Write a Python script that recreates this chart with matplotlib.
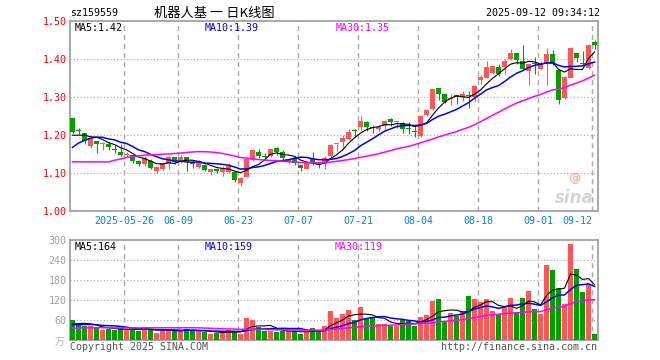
import matplotlib
matplotlib.use('Agg')
import matplotlib.pyplot as plt
import numpy as np

plt.rcParams['lines.scale_dashes'] = False

# ---------------- data ----------------
# closes before the visible window, inferred from the starting levels of the MA lines
prior_closes = [1.21, 1.19, 1.19, 1.18, 1.18, 1.17,
                1.03, 1.05, 1.04, 1.06, 1.06,
                1.08, 1.09, 1.10, 1.10, 1.11, 1.10, 1.11,
                1.08, 1.09,
                1.10, 1.115, 1.13, 1.149, 1.186,
                1.212, 1.185, 1.209, 1.185]
prior_volumes = [30, 28, 27, 29, 26, 45, 40, 35, 30, 28, 27, 25, 26, 24, 25, 27, 26, 28, 25, 29,
                 36, 38, 40, 44, 47, 40, 37, 50, 50]

opens = [1.245, 1.214, 1.205, 1.172, 1.185, 1.178, 1.177, 1.165, 1.156, 1.149,
         1.147, 1.133, 1.123, 1.133, 1.107, 1.112, 1.125, 1.142, 1.133, 1.142,
         1.130, 1.117, 1.121, 1.102, 1.111, 1.102, 1.104, 1.102, 1.074, 1.091,
         1.135, 1.156, 1.145, 1.144, 1.167, 1.156, 1.132, 1.139, 1.121, 1.112,
         1.137, 1.125, 1.125, 1.144, 1.176, 1.181, 1.191, 1.213, 1.222, 1.235,
         1.222, 1.216, 1.224, 1.243, 1.235, 1.231, 1.218, 1.212, 1.197, 1.254,
         1.268, 1.323, 1.307, 1.295, 1.305, 1.300, 1.306, 1.300, 1.345, 1.351,
         1.363, 1.379, 1.379, 1.400, 1.416, 1.396, 1.368, 1.390, 1.375, 1.386,
         1.413, 1.372, 1.298, 1.351, 1.416, 1.388, 1.377, 1.444]
highs = [1.246, 1.219, 1.207, 1.196, 1.186, 1.182, 1.181, 1.174, 1.177, 1.156,
         1.149, 1.136, 1.144, 1.137, 1.119, 1.130, 1.145, 1.143, 1.147, 1.143,
         1.135, 1.135, 1.125, 1.112, 1.114, 1.119, 1.128, 1.104, 1.091, 1.140,
         1.163, 1.165, 1.153, 1.165, 1.168, 1.160, 1.140, 1.144, 1.122, 1.132,
         1.156, 1.126, 1.144, 1.177, 1.178, 1.200, 1.216, 1.216, 1.251, 1.237,
         1.226, 1.228, 1.240, 1.244, 1.238, 1.235, 1.235, 1.223, 1.252, 1.268,
         1.322, 1.324, 1.310, 1.307, 1.306, 1.316, 1.316, 1.331, 1.358, 1.395,
         1.383, 1.388, 1.400, 1.426, 1.417, 1.436, 1.386, 1.405, 1.394, 1.429,
         1.424, 1.373, 1.356, 1.431, 1.417, 1.420, 1.440, 1.449]
lows = [1.205, 1.203, 1.177, 1.167, 1.154, 1.160, 1.160, 1.154, 1.145, 1.142,
        1.128, 1.120, 1.119, 1.111, 1.100, 1.109, 1.111, 1.125, 1.128, 1.107,
        1.114, 1.115, 1.105, 1.096, 1.100, 1.093, 1.100, 1.077, 1.067, 1.089,
        1.133, 1.140, 1.135, 1.142, 1.147, 1.135, 1.128, 1.121, 1.107, 1.110,
        1.121, 1.114, 1.112, 1.142, 1.158, 1.170, 1.188, 1.196, 1.214, 1.212,
        1.207, 1.212, 1.216, 1.225, 1.219, 1.207, 1.203, 1.195, 1.194, 1.250,
        1.265, 1.293, 1.284, 1.279, 1.281, 1.290, 1.272, 1.290, 1.334, 1.349,
        1.361, 1.356, 1.360, 1.398, 1.388, 1.372, 1.333, 1.362, 1.374, 1.333,
        1.384, 1.281, 1.296, 1.349, 1.393, 1.384, 1.373, 1.426]
closes = [1.209, 1.212, 1.185, 1.189, 1.178, 1.180, 1.170, 1.160, 1.147, 1.151,
          1.132, 1.123, 1.140, 1.114, 1.117, 1.126, 1.142, 1.130, 1.142, 1.132,
          1.125, 1.127, 1.109, 1.110, 1.105, 1.112, 1.119, 1.083, 1.088, 1.137,
          1.160, 1.146, 1.143, 1.163, 1.156, 1.139, 1.138, 1.126, 1.114, 1.130,
          1.126, 1.122, 1.140, 1.175, 1.177, 1.193, 1.209, 1.211, 1.238, 1.222,
          1.219, 1.222, 1.238, 1.235, 1.237, 1.217, 1.216, 1.209, 1.250, 1.267,
          1.321, 1.309, 1.288, 1.299, 1.300, 1.308, 1.302, 1.330, 1.354, 1.379,
          1.382, 1.361, 1.395, 1.416, 1.398, 1.375, 1.386, 1.388, 1.386, 1.412,
          1.386, 1.293, 1.352, 1.430, 1.402, 1.386, 1.438, 1.437]
volumes = [58, 45, 42, 40, 35, 28, 32, 30, 34, 28, 30, 27, 35, 31, 20, 27, 31, 25, 25, 32,
           27, 25, 24, 17, 21, 19, 30, 27, 17, 64, 58, 39, 27, 25, 23, 27, 25, 25, 17, 23,
           34, 26, 40, 87, 64, 76, 88, 58, 97, 63, 64, 48, 48, 41, 42, 59, 57, 40, 68, 73,
           115, 121, 57, 79, 70, 87, 130, 121, 112, 121, 85, 76, 102, 124, 82, 125, 145, 92, 76, 226,
           209, 156, 107, 289, 212, 142, 168, 16]

tick_idx = [9, 18, 28, 38, 48, 58, 68, 78, 87]
tick_labels = ['2025-05-26', '06-09', '06-23', '07-07', '07-21', '08-04', '08-18', '09-01', '09-12']
price_ticks = [1.00, 1.10, 1.20, 1.30, 1.40, 1.50]
vol_ticks = [60, 120, 180, 240, 300]

ma_periods = [5, 10, 30]
ma_colors = ['#000000', '#0000FF', '#FF00FF']
ma_lw = [0.8, 1.1, 1.1]
price_ma_text = ['MA5:1.42', 'MA10:1.39', 'MA30:1.35']
vol_ma_text = ['MA5:164', 'MA10:159', 'MA30:119']

# ---------------- styling ----------------
RED = '#FF5757'
GREEN = '#009F00'
GRID = '#A8A8A8'
FRAME = '#9A9A9A'
MONO = 'DejaVu Sans Mono'

W, H = 660, 360
fig = plt.figure(figsize=(W / 100, H / 100), dpi=100)
fig.patch.set_facecolor('white')

L, R = 70, 598
ax = fig.add_axes([L / W, 1 - 211.3 / H, (R - L) / W, (211.3 - 21.0) / H])
axv = fig.add_axes([L / W, 1 - 339.5 / H, (R - L) / W, (339.5 - 240.0) / H])

o = np.array(opens); h = np.array(highs); lo = np.array(lows); c = np.array(closes)
v = np.array(volumes, dtype=float)
n = len(c)
x = np.arange(n) + 0.42
up = c >= o
cols = np.where(up, RED, GREEN)

def rolling(full, p, n):
    full = np.asarray(full, dtype=float)
    out = np.convolve(full, np.ones(p) / p, mode='valid')
    return out[-n:]

# ---- price panel ----
for a in (ax, axv):
    a.set_xlim(0, 88)
    for t in tick_idx:
        a.axvline(t, color=GRID, lw=1.0, dashes=(3.6, 2.9), zorder=1)
    for s in a.spines.values():
        s.set_color(FRAME)
        s.set_linewidth(1.2)
    a.set_xticks([])
    a.tick_params(axis='y', length=0, pad=2.5, labelsize=7.2)

ax.set_ylim(1.0, 1.5)
for p in price_ticks[1:-1]:
    ax.axhline(p, color=GRID, lw=0.8, dashes=(0.8, 1.6), zorder=1)
ax.set_yticks(price_ticks)
ax.set_yticklabels(['%.2f' % p for p in price_ticks], color='#FF0000', family=MONO)

ax.vlines(x, lo, h, colors=cols, lw=0.8, zorder=3)
body_bottom = np.minimum(o, c)
body_h = np.maximum(np.abs(c - o), 0.0027)
ax.bar(x, body_h, bottom=body_bottom, width=0.83, color=cols, linewidth=0, zorder=4)

full_c = list(prior_closes) + list(closes)
for p, col, lw in zip(ma_periods, ma_colors, ma_lw):
    ax.plot(x, rolling(full_c, p, n), color=col, lw=lw, zorder=5)

for txt, col, px in zip(price_ma_text, ma_colors, [75, 205, 336]):
    fig.text(px / W, 1 - 28 / H, txt, color=col, family=MONO, fontsize=7.2, va='center', ha='left')

for t, lab in zip(tick_idx, tick_labels):
    ha = 'right' if t == tick_idx[-1] else 'center'
    ax.annotate(lab, xy=(t, 0), xycoords=('data', 'axes fraction'), xytext=(0, -10),
                textcoords='offset pixels', ha=ha, va='center', color='#0A84D0',
                family=MONO, fontsize=7.2, annotation_clip=False)

ax.text(0.955, 0.07, 'sina', transform=ax.transAxes, ha='center', va='center',
        fontsize=12, fontweight='bold', style='italic', color='#D4D4D4', zorder=0)
ax.text(0.955, 0.17, '@', transform=ax.transAxes, ha='center', va='center',
        fontsize=9, fontweight='bold', color='#F4B8B8', zorder=0)

# ---- volume panel ----
axv.set_ylim(0, 300)
for p in vol_ticks[:-1]:
    axv.axhline(p, color=GRID, lw=0.8, dashes=(0.8, 1.6), zorder=1)
axv.set_yticks(vol_ticks)
axv.set_yticklabels([str(t) for t in vol_ticks], color='#A0A0A0', family=MONO)
axv.bar(x, v, width=0.83, color=cols, linewidth=0, zorder=3)
full_v = list(prior_volumes) + list(volumes)
for p, col, lw in zip(ma_periods, ma_colors, ma_lw):
    axv.plot(x, rolling(full_v, p, n), color=col, lw=lw, zorder=5)

for txt, col, px in zip(vol_ma_text, ma_colors, [75, 205, 335]):
    fig.text(px / W, 1 - 246.5 / H, txt, color=col, family=MONO, fontsize=7.2, va='center', ha='left')

fig.text(64 / W, 1 - 342 / H, '万', color='#B0B0B0', family=['Noto Sans CJK SC', 'DejaVu Sans'],
         fontsize=7, ha='right', va='center')

# ---- header / footer ----
fig.text(70 / W, 1 - 13 / H, 'sz159559', family=MONO, fontsize=7.2, ha='left', va='center', color='#000000')
fig.text(214 / W, 1 - 13 / H, '机器人基 一 日K线图', family=['Noto Sans CJK SC', 'DejaVu Sans'],
         fontsize=9.5, ha='center', va='center', color='#000000')
fig.text(600 / W, 1 - 13 / H, '2025-09-12 09:34:12', family=MONO, fontsize=7.2, ha='right', va='center', color='#000000')
fig.text(70 / W, 1 - 347 / H, 'Copyright 2025 SINA.COM', family=MONO, fontsize=7.2, ha='left', va='center', color='#555555')
fig.text(597 / W, 1 - 347 / H, 'http://finance.sina.com.cn', family=MONO, fontsize=7.2, ha='right', va='center', color='#555555')

fig.savefig('out.png', dpi=100, facecolor='white')
